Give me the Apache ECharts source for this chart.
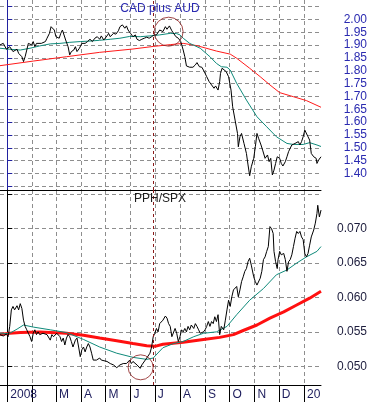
<!DOCTYPE html>
<html><head><meta charset="utf-8">
<script src="https://cdn.jsdelivr.net/npm/echarts@6/dist/echarts.min.js"></script>
<style>html,body{margin:0;padding:0;background:#fff}#c{width:371px;height:402px}</style>
</head><body><div id="c"></div>
<script>
// x values are calendar days counted from 2008-01-01
const monthDays = [0,31,60,91,121,152,182,213,244,274,305,335,366];
const monthLabels = ['2008','','M','A','M','J','J','A','S','O','N','D','20'];
const markerDay = 180;
const dayMin = -9, dayMax = 387;

// CAD plus AUD
const cadDays = [-9,-5,-1,3,7,12,14,18,20,22,
24,26,28,30,32,34,36,38,42,47,
49,52,54,56,58,60,62,64,66,68,
70,72,73,75,77,79,82,84,86,89,
92,94,96,99,102,105,108,111,114,116,
119,123,125,127,131,134,137,139,142,145,
147,149,152,155,158,160,163,166,169,172,
175,178,181,184,188,192,195,197,200,203,
205,208,211,214,217,219,221,225,229,232,
234,237,240,243,246,249,252,255,257,260,
262,263,265,267,270,273,276,278,281,284,
285,287,289,292,295,297,299,301,304,306,
308,310,313,315,318,321,323,325,327,329,
331,333,336,338,340,343,345,347,349,351,
353,355,357,359,361,363,365,367,369,371,
373,375,378,381,382,384,387];
const cadVals = [1.901,1.907,1.884,1.894,1.875,1.884,1.868,1.855,1.836,1.855,
1.881,1.907,1.914,1.901,1.914,1.894,1.907,1.901,1.907,1.914,
1.927,1.946,1.972,1.979,1.959,1.933,1.940,1.927,1.946,1.959,
1.953,1.920,1.914,1.894,1.862,1.875,1.881,1.894,1.875,1.888,
1.907,1.914,1.907,1.914,1.923,1.914,1.927,1.933,1.923,1.936,
1.920,1.936,1.946,1.933,1.946,1.943,1.956,1.972,1.979,1.966,
1.975,1.959,1.946,1.933,1.940,1.923,1.918,1.923,1.927,1.931,
1.927,1.933,1.940,1.940,1.959,1.953,1.972,1.962,1.975,1.956,
1.949,1.933,1.927,1.914,1.881,1.855,1.819,1.814,1.814,1.823,
1.832,1.816,1.814,1.797,1.777,1.758,1.745,1.732,1.741,1.725,
1.758,1.790,1.810,1.803,1.797,1.777,1.725,1.660,1.608,1.556,
1.504,1.543,1.556,1.517,1.478,1.433,1.391,1.426,1.459,1.504,
1.556,1.537,1.511,1.491,1.459,1.472,1.446,1.459,1.394,1.413,
1.439,1.465,1.459,1.439,1.429,1.446,1.465,1.485,1.478,1.511,
1.504,1.517,1.511,1.524,1.511,1.524,1.543,1.569,1.563,1.543,
1.530,1.478,1.465,1.459,1.439,1.452,1.465];
const cadMaShortDays = [-9,3,16,28,40,53,65,77,90,102,114,127,139,151,164,176,188,201,209,213,217,225,238,250,258,264,271,275,283,295,308,320,332,345,353,365,373,382,387];
const cadMaShortVals = [1.888,1.884,1.881,1.888,1.897,1.905,1.907,1.911,1.914,1.916,1.919,1.923,1.927,1.934,1.933,1.936,1.940,1.946,1.945,1.940,1.927,1.907,1.888,1.855,1.829,1.816,1.814,1.803,1.751,1.686,1.621,1.582,1.543,1.517,1.513,1.513,1.520,1.511,1.505];
const cadMaLongDays = [-9,32,73,114,155,180,201,217,234,258,275,283,299,312,324,336,353,369,387];
const cadMaLongVals = [1.820,1.838,1.855,1.872,1.885,1.895,1.902,1.907,1.898,1.877,1.865,1.849,1.810,1.777,1.745,1.715,1.699,1.684,1.658];
const cadCircle = [199, 1.9525];
const cadMin = 1.3355, cadMax = 2.076;
const cadGridValues = [1.35,1.40,1.45,1.50,1.55,1.60,1.65,1.70,1.75,1.80,1.85,1.90,1.95,2.00,2.05];
const cadLabelValues = [1.40,1.45,1.50,1.55,1.60,1.65,1.70,1.75,1.80,1.85,1.90,1.95,2.00];

// PPH/SPX
const pphDays = [-9,-5,-1,1,3,5,7,9,12,14,
16,18,20,22,24,26,28,30,32,34,
36,38,40,44,49,53,55,57,61,65,
67,69,71,73,75,77,79,81,84,86,
88,90,92,94,96,98,100,102,104,106,
108,110,112,114,116,118,123,127,131,135,
139,143,147,151,153,155,160,164,166,168,
172,176,178,180,182,184,186,188,190,192,
195,197,199,201,203,205,207,209,211,213,
215,217,219,221,223,225,227,230,232,234,
236,238,240,242,244,246,248,250,252,254,
256,258,260,262,264,267,269,271,273,275,
277,279,281,283,285,287,289,291,293,295,
297,299,301,304,306,308,310,312,314,316,
318,320,322,324,326,328,329,331,333,334,
336,338,341,343,345,347,349,351,353,355,
357,359,361,363,365,367,369,371,373,375,
378,380,382,383,385,387];
const pphVals = [0.0546,0.0544,0.0547,0.0543,0.0558,0.0582,0.0587,0.0582,0.0588,0.0582,
0.0591,0.0584,0.0567,0.0558,0.0553,0.0548,0.0543,0.0536,0.0548,0.0553,
0.0546,0.0550,0.0546,0.0548,0.0546,0.0538,0.0546,0.0543,0.0548,0.0543,
0.0536,0.0541,0.0531,0.0541,0.0546,0.0543,0.0536,0.0528,0.0538,0.0541,
0.0528,0.0514,0.0524,0.0528,0.0521,0.0528,0.0533,0.0528,0.0519,0.0509,
0.0507,0.0509,0.0507,0.0512,0.0509,0.0509,0.0507,0.0504,0.0502,0.0498,
0.0502,0.0504,0.0504,0.0509,0.0504,0.0507,0.0502,0.0497,0.0502,0.0504,
0.0512,0.0519,0.0528,0.0543,0.0548,0.0555,0.0550,0.0562,0.0560,0.0567,
0.0573,0.0570,0.0562,0.0558,0.0543,0.0541,0.0555,0.0548,0.0536,0.0543,
0.0553,0.0550,0.0555,0.0550,0.0558,0.0553,0.0560,0.0555,0.0562,0.0558,
0.0553,0.0548,0.0546,0.0550,0.0553,0.0558,0.0565,0.0558,0.0565,0.0562,
0.0572,0.0565,0.0575,0.0546,0.0558,0.0553,0.0567,0.0582,0.0596,0.0587,
0.0601,0.0611,0.0613,0.0616,0.0601,0.0611,0.0623,0.0630,0.0638,0.0642,
0.0652,0.0657,0.0647,0.0630,0.0623,0.0618,0.0620,0.0628,0.0638,0.0655,
0.0659,0.0667,0.0674,0.0703,0.0700,0.0693,0.0667,0.0652,0.0642,0.0655,
0.0667,0.0662,0.0664,0.0655,0.0638,0.0652,0.0655,0.0662,0.0674,0.0686,
0.0696,0.0693,0.0696,0.0688,0.0684,0.0664,0.0659,0.0664,0.0676,0.0688,
0.0698,0.0708,0.0722,0.0734,0.0717,0.0727];
const pphMaShortDays = [-9,3,12,20,32,53,73,94,114,135,155,172,180,192,205,217,230,242,258,271,283,299,316,332,345,357,369,382,387];
const pphMaShortVals = [0.0547,0.0548,0.0554,0.0560,0.0557,0.0553,0.0549,0.0539,0.0528,0.0519,0.0513,0.0510,0.0512,0.0527,0.0533,0.0536,0.0543,0.0548,0.0550,0.0558,0.0575,0.0596,0.0613,0.0633,0.0640,0.0650,0.0659,0.0667,0.0674];
const pphMaLongDays = [-9,3,16,40,73,94,114,135,155,172,182,192,217,242,262,279,291,308,324,341,357,373,387];
const pphMaLongVals = [0.0546,0.0548,0.0549,0.0550,0.0548,0.0545,0.0541,0.0537,0.0533,0.0530,0.0529,0.0532,0.0535,0.0539,0.0542,0.0546,0.0552,0.0560,0.0570,0.0579,0.0589,0.0599,0.0609];
const pphCircle = [164.5, 0.04985];
const pphMin = 0.04728, pphMax = 0.07562;
const pphGridValues = [0.050,0.055,0.060,0.065,0.070,0.075];
const pphLabelValues = [0.050,0.055,0.060,0.065,0.070];

const zip = (d, v) => d.map((x, i) => [x, v[i]]);
const FONT = 'Liberation Sans, Arial, sans-serif';
const DARKRED = '#8b1a1a';
const GRIDCOLOR = '#8e8e8e';

function line(xi, data, color, width, z, extra) {
  return Object.assign({type: 'line', xAxisIndex: xi, yAxisIndex: xi, data: data,
    showSymbol: false, symbol: 'none', animation: false, z: z,
    lineStyle: {color: color, width: width}, itemStyle: {color: color}}, extra || {});
}
function vmark() {
  return {symbol: ['none', 'none'], label: {show: false},
    lineStyle: {color: DARKRED, type: [3, 3], width: 1},
    data: [{xAxis: markerDay}]};
}
function gridLineStyle() {
  return {show: true, lineStyle: {color: GRIDCOLOR, type: [4, 3], width: 1}};
}
function xAxis(gi, showLabels) {
  return {type: 'value', gridIndex: gi, min: dayMin, max: dayMax,
    axisLine: {show: true, lineStyle: {color: '#000', width: 1}},
    axisTick: {show: showLabels, customValues: monthDays, length: 17, lineStyle: {color: '#000'}},
    axisLabel: {show: showLabels, customValues: monthDays, align: 'left', margin: 4,
      padding: [0, 0, 0, 3], color: '#1c1c5c', fontSize: 12, fontFamily: FONT,
      formatter: v => monthLabels[monthDays.indexOf(v)] || ''},
    splitLine: gridLineStyle()};
}
function circle(xi, pt, size) {
  return {type: 'scatter', xAxisIndex: xi, yAxisIndex: xi, data: [pt], symbol: 'circle',
    symbolSize: size, animation: false, z: 6,
    itemStyle: {color: 'rgba(0,0,0,0)', borderColor: DARKRED, borderWidth: 1}};
}

const chart = echarts.init(document.getElementById('c'));
chart.setOption({
  animation: false,
  backgroundColor: '#fff',
  title: [
    {text: 'CAD plus AUD', left: 160, top: 3, textAlign: 'center', padding: 0,
      textStyle: {color: '#2a2ab0', fontSize: 12, fontWeight: 'normal', fontFamily: FONT}},
    {text: 'PPH/SPX', left: 160, top: 193, textAlign: 'center', padding: 0,
      textStyle: {color: '#1c1c1c', fontSize: 12, fontWeight: 'normal', fontFamily: FONT}}
  ],
  grid: [
    {left: 0, top: 0, width: 321, height: 190},
    {left: 0, top: 190, width: 321, height: 195}
  ],
  xAxis: [xAxis(0, false), xAxis(1, true)],
  yAxis: [
    {type: 'value', gridIndex: 0, position: 'right', min: cadMin, max: cadMax, splitNumber: 15,
      axisLine: {show: true, lineStyle: {color: '#2222a0', width: 1}},
      axisTick: {show: true, length: 5, customValues: cadGridValues, lineStyle: {color: '#2222a0'}},
      axisLabel: {color: '#2a2ab0', fontSize: 12, fontFamily: FONT, align: 'right', margin: 46,
        customValues: cadLabelValues, formatter: v => v.toFixed(2)},
      splitLine: gridLineStyle()},
    {type: 'value', gridIndex: 1, position: 'right', min: pphMin, max: pphMax, splitNumber: 6,
      axisLine: {show: true, lineStyle: {color: '#000', width: 1}},
      axisTick: {show: true, length: 5, customValues: pphGridValues, lineStyle: {color: '#000'}},
      axisLabel: {color: '#1c1c3c', fontSize: 12, fontFamily: FONT, align: 'right', margin: 46,
        customValues: pphLabelValues, formatter: v => v.toFixed(3)},
      splitLine: gridLineStyle()}
  ],
  series: [
    line(0, zip(cadMaLongDays, cadMaLongVals), '#ff1a1a', 1, 2),
    line(0, zip(cadMaShortDays, cadMaShortVals), '#0f8a7a', 1, 3),
    line(0, zip(cadDays, cadVals), '#000', 1, 4, {markLine: vmark()}),
    circle(0, cadCircle, 29),
    line(1, zip(pphMaLongDays, pphMaLongVals), '#ff1010', 3, 2),
    line(1, zip(pphMaShortDays, pphMaShortVals), '#0f8a7a', 1, 3),
    line(1, zip(pphDays, pphVals), '#000', 1, 4, {markLine: vmark()}),
    circle(1, pphCircle, 25)
  ]
});
</script></body></html>
